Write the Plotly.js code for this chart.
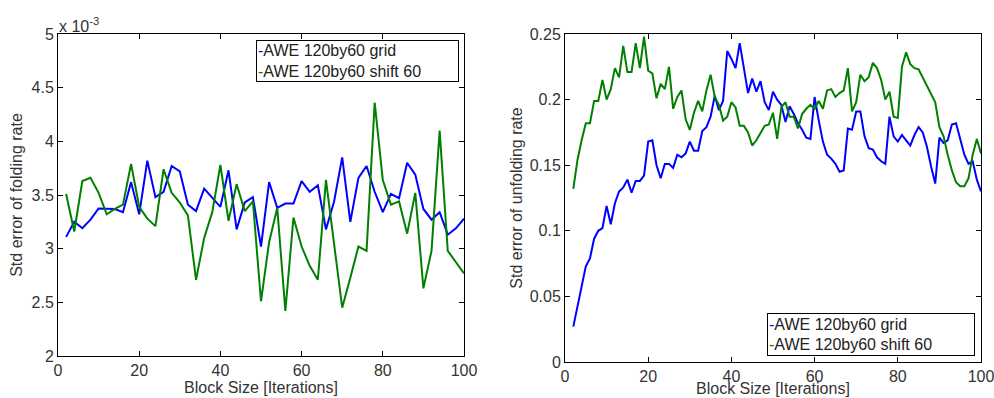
<!DOCTYPE html>
<html>
<head>
<meta charset="utf-8">
<script src="https://cdn.plot.ly/plotly-3.0.1.min.js"></script>
<style>html,body{margin:0;padding:0;background:#fff;}#chart{width:994px;height:398px;}</style>
</head>
<body>
<div id="chart"></div>
<script>
// ---- Left panel: folding rate std error (values in units of 1e-3) ----
var blockSizeLeft = [2,4,6,8,10,12,14,16,18,20,22,24,26,28,30,32,34,36,38,40,42,44,46,48,50,
  52,54,56,58,60,62,64,66,68,70,72,74,76,78,80,82,84,86,88,90,92,94,96,98,100];
var foldGrid = [3.11,3.25,3.19,3.27,3.375,3.37,3.37,3.34,3.62,3.32,3.82,3.48,3.53,3.77,3.72,3.41,3.35,3.56,3.48,3.39,3.73,3.18,3.43,3.48,3.02,
  3.62,3.38,3.42,3.42,3.63,3.53,3.59,3.18,3.44,3.85,3.25,3.66,3.77,3.53,3.34,3.51,3.47,3.80,3.69,3.37,3.27,3.34,3.13,3.19,3.28];
var foldShift = [3.51,3.16,3.63,3.66,3.52,3.32,3.37,3.41,3.79,3.39,3.28,3.21,3.74,3.52,3.43,3.31,2.71,3.10,3.34,3.78,3.26,3.60,3.35,3.44,2.51,
  3.06,3.38,2.42,3.29,3.02,2.84,2.71,3.64,3.06,2.45,2.73,3.02,2.98,4.36,3.64,3.41,3.44,3.14,3.52,2.63,2.98,4.10,2.98,2.88,2.77];

// ---- Right panel: unfolding rate std error ----
var blockSizeRight = [2,3,4,5,6,7,8,9,10,11,12,13,14,15,16,17,18,19,20,21,22,23,24,25,26,27,28,29,30,
  31,32,33,34,35,36,37,38,39,40,41,42,43,44,45,46,47,48,49,50,51,52,53,54,55,56,57,58,59,60,
  61,62,63,64,65,66,67,68,69,70,71,72,73,74,75,76,77,78,79,80,81,82,83,84,85,86,87,88,89,90,
  91,92,93,94,95,96,97,98,99,100];
var unfoldGrid = [0.027,0.042,0.058,0.073,0.079,0.094,0.100,0.102,0.119,0.105,0.121,0.130,0.133,0.139,0.129,0.138,0.138,0.142,0.168,0.169,
  0.150,0.140,0.151,0.151,0.148,0.158,0.156,0.159,0.168,0.161,0.161,0.176,0.179,0.187,0.203,0.192,0.199,0.237,0.231,0.224,
  0.243,0.225,0.205,0.216,0.206,0.214,0.198,0.192,0.206,0.200,0.196,0.183,0.195,0.189,0.182,0.177,0.171,0.170,0.202,0.184,
  0.168,0.158,0.155,0.151,0.145,0.146,0.178,0.177,0.191,0.191,0.172,0.163,0.162,0.156,0.153,0.151,0.187,0.172,0.168,0.173,
  0.169,0.165,0.173,0.179,0.175,0.164,0.149,0.136,0.171,0.167,0.169,0.181,0.182,0.169,0.158,0.151,0.153,0.139,0.130];
var unfoldShift = [0.132,0.154,0.169,0.182,0.182,0.199,0.199,0.215,0.200,0.208,0.224,0.217,0.241,0.221,0.221,0.243,0.224,0.248,0.222,0.220,
  0.201,0.212,0.208,0.225,0.193,0.202,0.207,0.185,0.177,0.190,0.199,0.191,0.207,0.219,0.202,0.196,0.184,0.187,0.198,0.194,
  0.180,0.180,0.175,0.165,0.169,0.175,0.180,0.181,0.190,0.170,0.194,0.198,0.187,0.187,0.178,0.189,0.193,0.196,0.193,0.199,
  0.193,0.207,0.208,0.202,0.205,0.207,0.224,0.191,0.198,0.219,0.214,0.217,0.228,0.224,0.215,0.200,0.206,0.187,0.186,0.225,
  0.236,0.227,0.224,0.223,0.217,0.211,0.205,0.198,0.179,0.172,0.158,0.146,0.137,0.134,0.134,0.140,0.158,0.170,0.159];

var seriesNames = ['AWE 120by60 grid', 'AWE 120by60 shift 60'];
var xTickVals = [0,20,40,60,80,100];
var xTitle = 'Block Size [Iterations]';

var W = 994, H = 398;
function px(x){ return x / W; }
function py(y){ return 1 - y / H; }

var FONT = 'Liberation Sans, Arial, Helvetica, sans-serif';
var BLUE = '#0000ff', GREEN = '#008000';

var traces = [
  {x: blockSizeLeft, y: foldGrid, type: 'scatter', mode: 'lines', name: seriesNames[0], line: {color: BLUE, width: 2}, xaxis: 'x', yaxis: 'y'},
  {x: blockSizeLeft, y: foldShift, type: 'scatter', mode: 'lines', name: seriesNames[1], line: {color: GREEN, width: 2}, xaxis: 'x', yaxis: 'y'},
  {x: blockSizeRight, y: unfoldGrid, type: 'scatter', mode: 'lines', name: seriesNames[0], line: {color: BLUE, width: 2}, xaxis: 'x2', yaxis: 'y2'},
  {x: blockSizeRight, y: unfoldShift, type: 'scatter', mode: 'lines', name: seriesNames[1], line: {color: GREEN, width: 2}, xaxis: 'x2', yaxis: 'y2'}
];

function axisBase(){
  return {
    showline: true, linecolor: '#000', linewidth: 1, mirror: 'ticks',
    ticks: 'inside', ticklen: 5, tickwidth: 1, tickcolor: '#000',
    showgrid: false, zeroline: false,
    ticklabeloverflow: 'allow',
    tickfont: {family: FONT, size: 16, color: '#333'},
    fixedrange: true
  };
}

var xa1 = Object.assign(axisBase(), {domain: [px(58), px(464)], range: [0, 100], tickvals: xTickVals, anchor: 'y',
  title: {text: xTitle, font: {family: FONT, size: 16, color: '#333'}, standoff: 3}});
var ya1 = Object.assign(axisBase(), {domain: [1 - 356/H, 1 - 34/H], range: [2, 5], dtick: 0.5, tick0: 2, anchor: 'x',
  title: {text: 'Std error of folding rate', font: {family: FONT, size: 16, color: '#333'}, standoff: 4}});
var xa2 = Object.assign(axisBase(), {domain: [px(565), px(981)], range: [0, 100], tickvals: xTickVals, anchor: 'y2'});
var ya2 = Object.assign(axisBase(), {domain: [1 - 362/H, 1 - 34/H], range: [0, 0.25], dtick: 0.05, tick0: 0, anchor: 'x2',
  title: {text: 'Std error of unfolding rate', font: {family: FONT, size: 16, color: '#333'}, standoff: 3}});

function legendText(){
  return '<span style="color:' + BLUE + '">-</span>' + seriesNames[0] + '<br>' +
         '<span style="color:' + GREEN + '">-</span>' + seriesNames[1];
}

var layout = {
  width: W, height: H,
  margin: {l: 0, r: 0, t: 0, b: 0, pad: 0},
  paper_bgcolor: '#fff', plot_bgcolor: '#fff',
  showlegend: false,
  font: {family: FONT, size: 16, color: '#333'},
  xaxis: xa1, yaxis: ya1, xaxis2: xa2, yaxis2: ya2,
  annotations: [
    {xref: 'paper', yref: 'paper', x: px(57), y: py(25), xanchor: 'left', yanchor: 'middle', showarrow: false,
     text: 'x 10<sup>-3</sup>', font: {family: FONT, size: 16, color: '#333'}},
    // right panel x-axis title, just above the page's bottom edge
    {xref: 'x2 domain', yref: 'paper', x: 0.5, y: 0, xanchor: 'center', yanchor: 'bottom', yshift: -1, showarrow: false,
     text: xTitle, font: {family: FONT, size: 16, color: '#333'}},
    {xref: 'paper', yref: 'paper', x: px(256), y: py(40), xanchor: 'left', yanchor: 'top', showarrow: false,
     text: legendText(), align: 'left', valign: 'middle', width: 199, height: 38,
     bordercolor: '#000', borderwidth: 1, borderpad: 1, bgcolor: '#fff',
     font: {family: FONT, size: 16, color: '#222'}},
    {xref: 'paper', yref: 'paper', x: px(767), y: py(313), xanchor: 'left', yanchor: 'top', showarrow: false,
     text: legendText(), align: 'left', valign: 'middle', width: 204, height: 39,
     bordercolor: '#000', borderwidth: 1, borderpad: 1, bgcolor: '#fff',
     font: {family: FONT, size: 16, color: '#222'}}
  ]
};

Plotly.newPlot('chart', traces, layout, {displayModeBar: false, staticPlot: true});
</script>
</body>
</html>
